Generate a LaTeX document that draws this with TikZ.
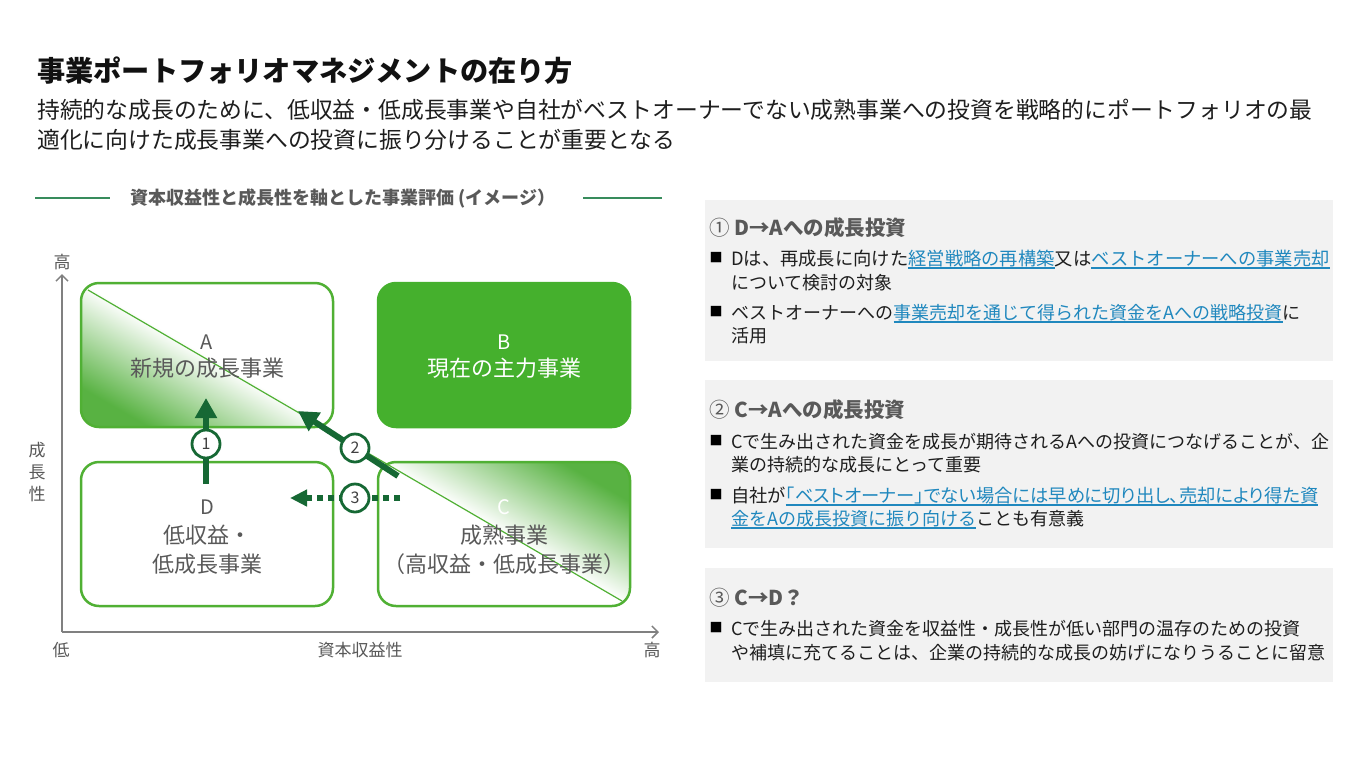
\documentclass[tikz,border=0pt]{standalone}
\usepackage{fontspec}
\setmainfont{Noto Sans CJK JP}
\newfontfamily\pfont[RawFeature=+palt]{Noto Sans CJK JP}
\usetikzlibrary{arrows.meta}
\definecolor{txtgray}{RGB}{89,89,89}
\definecolor{titleblk}{RGB}{17,17,17}
\definecolor{bodyblk}{RGB}{30,30,30}
\definecolor{boxgreen}{RGB}{80,176,52}
\definecolor{Bfill}{RGB}{69,176,45}
\definecolor{gA}{RGB}{88,178,66}
\definecolor{ardk}{RGB}{22,104,52}
\definecolor{hdrline}{RGB}{56,140,92}
\definecolor{axgray}{RGB}{128,128,128}
\definecolor{panelgray}{RGB}{242,242,242}
\definecolor{linkblue}{RGB}{32,136,190}
\definecolor{numgray}{RGB}{64,64,64}
\pgfdeclarehorizontalshading{gfade}{100bp}{color(0bp)=(gA); color(25bp)=(gA); color(50bp)=(white); color(100bp)=(white)}
\newcommand\fsz[1]{\fontsize{#1}{#1}\selectfont}
\newcommand\lnk[1]{{\color{linkblue}\setbox0\hbox{#1}\rlap{\rule[-3.5pt]{\wd0}{1.3pt}}\box0}}
\begin{document}
\begin{tikzpicture}[x=1pt,y=1pt,
  qbox/.style={draw=boxgreen, line width=2.5pt, rounded corners=18pt, minimum width=252pt, minimum height=144pt, inner sep=0pt},
  boxtxt/.style={font=\fsz{22}, text=txtgray, inner sep=0pt},
  arr/.style={draw=ardk, line width=6pt, -{Triangle[length=20pt,width=21pt]}},
  arrd/.style={draw=ardk, line width=6pt, dash pattern=on 6pt off 5pt, -{Triangle[length=17pt,width=16pt]}},
  num/.style={circle, draw=ardk, line width=2.8pt, fill=white, minimum size=28pt, inner sep=0pt, font=\fsz{16}, text=numgray},
  ax/.style={draw=axgray, line width=1.5pt, -{Straight Barb[length=6pt,width=12pt,line width=1.5pt]}},
  axlbl/.style={font=\fsz{17}, text=txtgray, inner sep=0pt},
  panel/.style={fill=panelgray, draw=none, minimum width=628pt, inner sep=0pt},
  ptxt/.style={anchor=base west, font=\fsz{18}, text=bodyblk, inner sep=0pt},
  phead/.style={anchor=base west, font=\fsz{20.5}\bfseries, text=txtgray, inner sep=0pt},
  bul/.style={font=\fsz{13}, text=black, inner sep=0pt},
]
\useasboundingbox (0,0) rectangle (1368,-756);
\fill[white] (0,0) rectangle (1368,-756);

% title and subtitle
\node[anchor=base west, inner sep=0pt, font=\fsz{28.2}\bfseries, text=titleblk] (title) at (37,-81) {事業ポートフォリオマネジメントの在り方};
\node[anchor=base west, inner sep=0pt, font=\fsz{22.8}, text=bodyblk] (sub1) at (37,-118.6) {持続的な成長のために、低収益・低成長事業や自社がベストオーナーでない成熟事業への投資を戦略的にポートフォリオの最};
\node[anchor=base west, inner sep=0pt, font=\fsz{22.8}, text=bodyblk] (sub2) at (37,-148) {適化に向けた成長事業への投資に振り分けることが重要となる};

% chart header
\node[font=\fsz{18}\bfseries, text=txtgray, inner sep=0pt] (hdr) at (343,-198) {資本収益性と成長性を軸とした事業評価 (イメージ）};
\draw[hdrline, line width=1.3pt] (35,-198) -- (110,-198);
\draw[hdrline, line width=1.3pt] (583,-198) -- (662,-198);

% axes
\coordinate (O) at (62,-632);
\coordinate (ytop) at (62,-274);
\coordinate (xend) at (659,-632);
\draw[ax] (O) -- (ytop);
\draw[ax] (O) -- (xend);
\node[axlbl] (yhi) at (62,-262) {高};
\node[axlbl] (ylo) at (61,-650) {低};
\node[axlbl] (xlab) at (360,-650) {資本収益性};
\node[axlbl] (xhi) at (652,-650) {高};
\node[axlbl, align=center, font=\fontsize{17}{22}\selectfont] (ylab) at (37,-472) {成\\長\\性};

% quadrant boxes
\node[qbox, shade, shading=gfade, shading angle=60] (A) at (207,-355) {};
\node[qbox, fill=Bfill, draw=Bfill] (B) at (504,-355) {};
\node[qbox, shade, shading=gfade, shading angle=240] (C) at (504,-534) {};
\node[qbox, fill=white] (D) at (207,-534) {};

% diagonal
\coordinate (dgs) at (88,-290);
\coordinate (dge) at (622,-601);
\draw[boxgreen, line width=1.2pt] (dgs) -- (dge);

% box texts
\node[boxtxt, font=\fsz{20}] (Al) at (207,-342) {A};
\node[boxtxt] (At) at (207,-368) {新規の成長事業};
\node[boxtxt, font=\fsz{20}, text=white] (Bl) at (504,-342) {B};
\node[boxtxt, text=white] (Bt) at (504,-368) {現在の主力事業};
\node[boxtxt, font=\fsz{20}, text=white] (Cl) at (504,-507) {C};
\node[boxtxt] (Ct1) at (504,-535) {成熟事業};
\node[boxtxt] (Ct2) at (504,-564) {（高収益・低成長事業）};
\node[boxtxt, font=\fsz{20}] (Dl) at (207,-507) {D};
\node[boxtxt] (Dt1) at (207,-535) {低収益・};
\node[boxtxt] (Dt2) at (207,-564) {低成長事業};

% arrows
\coordinate (a1s) at (206,-484);
\coordinate (a1e) at (206,-398);
\draw[arr] (a1s) -- (a1e);
\node[num] (n1) at (206,-444) {1};

\coordinate (a2s) at (398,-476);
\coordinate (a2e) at (298,-411);
\draw[arr] (a2s) -- (a2e);
\node[num] (n2) at (355,-448) {2};

\coordinate (a3s) at (400,-498);
\coordinate (a3e) at (290,-498);
\draw[arrd] (a3s) -- (a3e);
\node[num] (n3) at (355,-498) {3};

% right panels
\node[panel, minimum height=161pt] (P1) at (1019,-280.5) {};
\node[panel, minimum height=168pt] (P2) at (1019,-464) {};
\node[panel, minimum height=114pt] (P3) at (1019,-625) {};

\node[phead] (h1) at (709,-235.6) {{\mdseries ①} D→Aへの成長投資};
\node[bul] (b11) at (716,-258) {■};
\node[ptxt, font=\fsz{18.3}] (t11) at (731,-265) {Dは、再成長に向けた\lnk{経営戦略の再構築}又は\lnk{ベストオーナーへの事業売却}};
\node[ptxt] (t12) at (731,-289) {について検討の対象};
\node[bul] (b12) at (716,-312) {■};
\node[ptxt] (t13) at (731,-319) {ベストオーナーへの\lnk{事業売却を通じて得られた資金をAへの戦略投資}に};
\node[ptxt] (t14) at (731,-342) {活用};

\node[phead] (h2) at (709,-417.6) {{\mdseries ②} C→Aへの成長投資};
\node[bul] (b21) at (716,-441) {■};
\node[ptxt] (t21) at (731,-448) {Cで生み出された資金を成長が期待されるAへの投資につなげることが、企};
\node[ptxt] (t22) at (731,-471) {業の持続的な成長にとって重要};
\node[bul] (b22) at (716,-495) {■};
\node[ptxt, font=\fsz{18.3}] (t23) at (731,-502) {\pfont 自社が\lnk{「ベストオーナー」でない場合には早めに切り出し、売却により得た資}};
\node[ptxt] (t24) at (731,-525) {\lnk{金をAの成長投資に振り向ける}ことも有意義};

\node[phead] (h3) at (709,-605.6) {{\mdseries ③} C→D？};
\node[bul] (b31) at (716,-628) {■};
\node[ptxt] (t31) at (731,-635) {Cで生み出された資金を収益性・成長性が低い部門の温存のための投資};
\node[ptxt] (t32) at (731,-659) {や補填に充てることは、企業の持続的な成長の妨げになりうることに留意};
\end{tikzpicture}
\end{document}
